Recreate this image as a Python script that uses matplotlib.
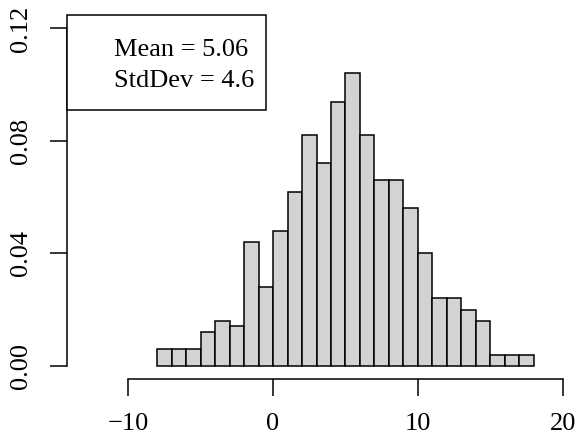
import numpy as np
import matplotlib
matplotlib.use("Agg")
import matplotlib.pyplot as plt
from matplotlib.patches import Rectangle

# histogram (density) values, bins of width 1
bin_edges = np.arange(-8, 19, 1)
density = [0.006, 0.006, 0.006, 0.012, 0.016, 0.014, 0.044, 0.028, 0.048,
           0.062, 0.082, 0.072, 0.094, 0.104, 0.082, 0.066, 0.066, 0.056,
           0.040, 0.024, 0.024, 0.020, 0.016, 0.004, 0.004, 0.004]
x_ticks = [-10, 0, 10, 20]
x_labels = ["\u221210", "0", "10", "20"]
y_ticks = [0.00, 0.04, 0.08, 0.12]
y_labels = ["0.00", "0.04", "0.08", "0.12"]
legend_lines = ["Mean = 5.06", "StdDev = 4.6"]

plt.rcParams['font.family'] = ['Liberation Serif', 'DejaVu Serif']
W, H = 579, 440
fig = plt.figure(figsize=(W / 100, H / 100), dpi=100)

# plot region in pixels (R-style, 4% padded ylim)
left_px, right_px, top_px, bottom_px = 66.7, 565, 15, 379.3
ax = fig.add_axes([left_px / W, 1 - bottom_px / H,
                   (right_px - left_px) / W, (bottom_px - top_px) / H])

ax.bar(bin_edges[:-1], density, width=np.diff(bin_edges), align='edge',
       color='#d3d3d3', edgecolor='black', linewidth=1.1)

ax.set_xlim(-14.25, 20.16)
ax.set_ylim(-0.0048, 0.1248)

for s in ['top', 'right']:
    ax.spines[s].set_visible(False)
ax.spines['left'].set_bounds(0, 0.12)
ax.spines['bottom'].set_bounds(-10, 20)
for s in ['left', 'bottom']:
    ax.spines[s].set_linewidth(1.1)

ax.set_xticks(x_ticks)
ax.set_xticklabels(x_labels)
ax.set_yticks(y_ticks)
ax.set_yticklabels(y_labels, rotation=90, va='center')
ax.tick_params(axis='both', direction='out', length=12, width=1.1,
               labelsize=19)
ax.tick_params(axis='x', pad=12)
ax.tick_params(axis='y', pad=13)

# legend box at top-left of plot region
bx0, by0, bx1, by1 = 66.7, 15, 266.2, 110
fig.patches.append(Rectangle((bx0 / W, 1 - by1 / H), (bx1 - bx0) / W,
                             (by1 - by0) / H, transform=fig.transFigure,
                             facecolor='white', edgecolor='black',
                             linewidth=1.1, zorder=5))
for i, line in enumerate(legend_lines):
    fig.text(113.5 / W, 1 - (56 + 30.7 * i) / H, line, ha='left',
             va='baseline', fontsize=19, zorder=6)

fig.savefig("out.png", dpi=100)
